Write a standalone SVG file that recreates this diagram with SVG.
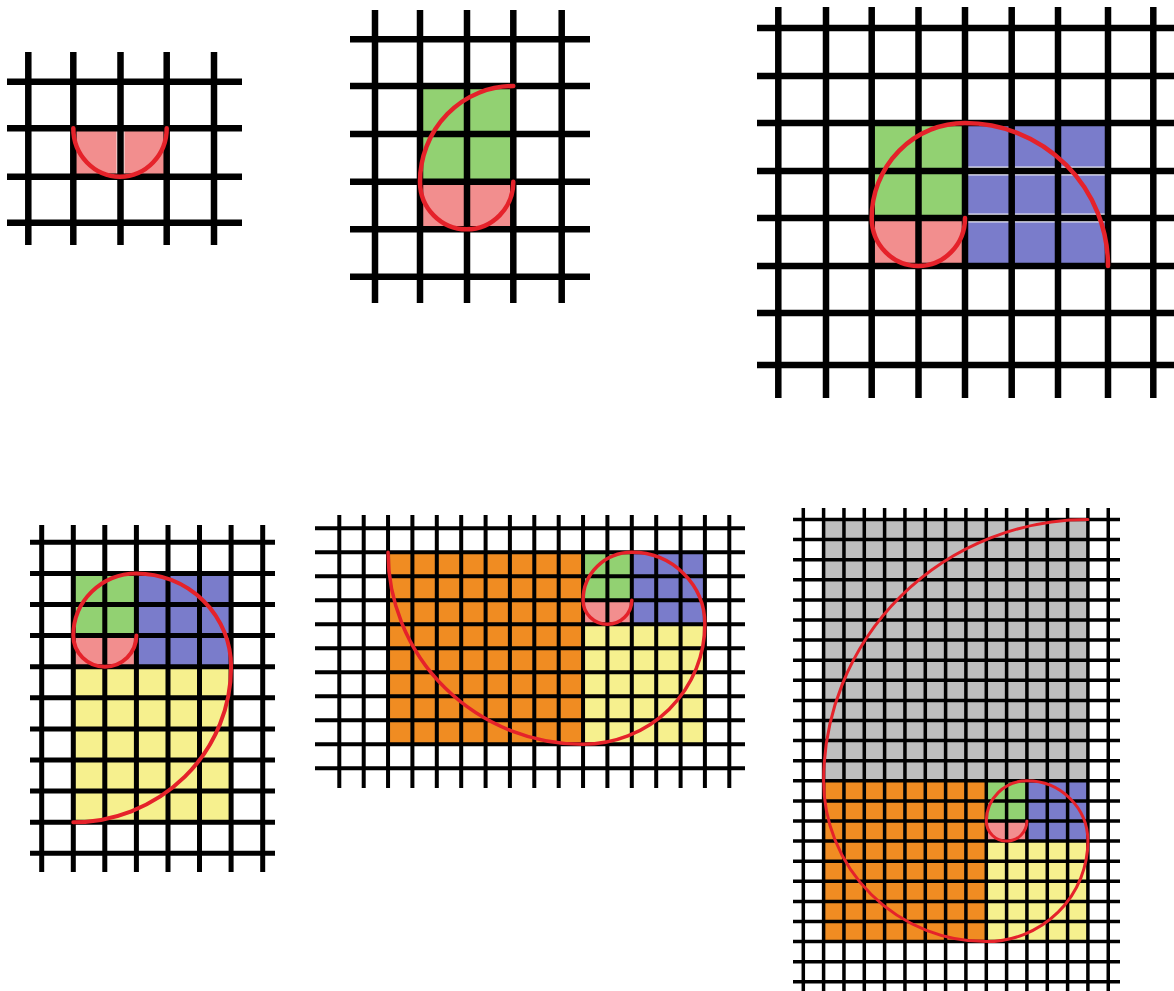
<svg xmlns="http://www.w3.org/2000/svg" width="1174" height="991" viewBox="0 0 1174 991">
<style>
.g{fill:none;stroke:#000;stroke-linecap:butt}
.h{fill:none;stroke:#fff;opacity:0.85}
.sp{fill:none;stroke:#e5222a;stroke-linecap:round}
.pk{fill:#f28e8e}
.gr{fill:#92d172}
.bl{fill:#7a7ccb}
.ye{fill:#f6f08e}
.or{fill:#f08c22}
.gy{fill:#bebebe}
</style>
<rect width="1174" height="991" fill="#fff"/>

<g id="panel1">
<rect class="pk" x="73.3" y="128.3" width="93.4" height="48.4"/>
<path class="h" stroke-width="8" d="M120.5 128.3V176.7"/>
<path class="g" stroke-width="6.5" d="M28.3 52V245M73.3 52V245M120.5 52V245M166.7 52V245M214 52V245M7 81.7H242M7 128.3H242M7 176.7H242M7 222.7H242"/>
<path class="sp" stroke-width="4.5" d="M166.7 128.3A46.7 48.4 0 0 1 120 176.7A46.7 48.4 0 0 1 73.3 128.3"/>
</g>

<g id="panel2">
<rect class="gr" x="420" y="86" width="93.3" height="95.7"/>
<rect class="pk" x="420" y="181.7" width="93.3" height="47.6"/>
<path class="g" stroke-width="6.5" d="M375 10V303M420 10V303M467 10V303M513.3 10V303M561.7 10V303M350 39.3H590M350 86H590M350 134H590M350 181.7H590M350 229.3H590M350 276.7H590"/>
<path class="sp" stroke-width="4.5" d="M513.3 181.7A46.65 47.6 0 0 1 466.65 229.3A46.65 47.6 0 0 1 420 181.7A93.3 95.7 0 0 1 513.3 86"/>
</g>

<g id="panel3">
<rect class="gr" x="871.7" y="123" width="93.3" height="95"/>
<rect class="pk" x="871.7" y="218" width="93.3" height="48"/>
<rect class="bl" x="965" y="123" width="143" height="143"/>
<path class="h" stroke-width="9" d="M965 171H1108M965 218H1108"/>
<path class="g" stroke-width="6.5" d="M778.3 7V398M826 7V398M871.7 7V398M918.5 7V398M965 7V398M1011.7 7V398M1058 7V398M1108 7V398M1153.3 7V398M757 28H1174M757 76H1174M757 123H1174M757 171H1174M757 218H1174M757 266H1174M757 313H1174M757 365H1174"/>
<path class="sp" stroke-width="4.5" d="M965 218A46.65 48 0 0 1 918.35 266A46.65 48 0 0 1 871.7 218A93.3 95 0 0 1 965 123A143 143 0 0 1 1108 266"/>
</g>

<g id="panel4">
<rect class="gr" x="73.3" y="573.4" width="63.1" height="62.2"/>
<rect class="pk" x="73.3" y="635.6" width="63.1" height="31.1"/>
<rect class="bl" x="136.4" y="573.4" width="94.7" height="93.3"/>
<rect class="ye" x="73.3" y="666.7" width="157.8" height="155.5"/>
<path class="g" stroke-width="5" d="M41.7 525V872M73.3 525V872M104.8 525V872M136.4 525V872M168 525V872M199.5 525V872M231.1 525V872M262.7 525V872M30 542.3H275M30 573.4H275M30 604.5H275M30 635.6H275M30 666.7H275M30 697.8H275M30 728.9H275M30 760H275M30 791.1H275M30 822.2H275M30 853.3H275"/>
<path class="sp" stroke-width="4" d="M136.4 635.6A31.55 31.1 0 0 1 104.85 666.7A31.55 31.1 0 0 1 73.3 635.6A63.1 62.2 0 0 1 136.4 573.4A94.7 93.3 0 0 1 231.1 666.7A157.8 155.5 0 0 1 73.3 822.2"/>
</g>

<g id="panel5">
<rect class="or" x="388.05" y="552.3" width="195" height="192"/>
<rect class="gr" x="583.05" y="552.3" width="48.75" height="48"/>
<rect class="pk" x="583.05" y="600.3" width="48.75" height="24"/>
<rect class="bl" x="631.8" y="552.3" width="73.1" height="72"/>
<rect class="ye" x="583.05" y="624.3" width="121.85" height="120"/>
<path class="g" stroke-width="4" d="M339.3 515V788M363.7 515V788M388.05 515V788M412.4 515V788M436.8 515V788M461.2 515V788M485.6 515V788M509.9 515V788M534.3 515V788M558.7 515V788M583.05 515V788M607.4 515V788M631.8 515V788M656.2 515V788M680.6 515V788M704.9 515V788M729.3 515V788M315 528.3H745M315 552.3H745M315 576.3H745M315 600.3H745M315 624.3H745M315 648.3H745M315 672.3H745M315 696.3H745M315 720.3H745M315 744.3H745M315 768.3H745"/>
<path class="sp" stroke-width="3.5" d="M631.8 600.3A24.4 24 0 0 1 607.4 624.3A24.4 24 0 0 1 583.05 600.3A48.75 48 0 0 1 631.8 552.3A73.1 72 0 0 1 704.9 624.3A121.85 120 0 0 1 583.05 744.3A195 192 0 0 1 388.05 552.3"/>
</g>

<g id="panel6">
<rect class="gy" x="823.6" y="519.5" width="264.3" height="261.3"/>
<rect class="or" x="823.6" y="780.8" width="162.7" height="160.8"/>
<rect class="gr" x="986.3" y="780.8" width="40.6" height="40.2"/>
<rect class="pk" x="986.3" y="821" width="40.6" height="20.1"/>
<rect class="bl" x="1026.9" y="780.8" width="61" height="60.3"/>
<rect class="ye" x="986.3" y="841.1" width="101.6" height="100.5"/>
<path class="g" stroke-width="3.5" d="M803.3 508V991M823.6 508V991M843.96 508V991M864.3 508V991M884.6 508V991M904.95 508V991M925.3 508V991M945.6 508V991M965.9 508V991M986.3 508V991M1006.6 508V991M1026.9 508V991M1047.3 508V991M1067.6 508V991M1087.9 508V991M1108.25 508V991M793 519.5H1120M793 539.6H1120M793 559.7H1120M793 579.8H1120M793 599.9H1120M793 620H1120M793 640.1H1120M793 660.2H1120M793 680.3H1120M793 700.4H1120M793 720.5H1120M793 740.6H1120M793 760.7H1120M793 780.8H1120M793 800.9H1120M793 821H1120M793 841.1H1120M793 861.2H1120M793 881.3H1120M793 901.4H1120M793 921.5H1120M793 941.6H1120M793 961.7H1120M793 981.8H1120"/>
<path class="sp" stroke-width="3" d="M1026.9 821A20.3 20.1 0 0 1 1006.6 841.1A20.3 20.1 0 0 1 986.3 821A40.6 40.2 0 0 1 1026.9 780.8A61 60.3 0 0 1 1087.9 841.1A101.6 100.5 0 0 1 986.3 941.6A162.7 160.8 0 0 1 823.6 780.8A264.3 261.3 0 0 1 1087.9 519.5"/>
</g>
</svg>
